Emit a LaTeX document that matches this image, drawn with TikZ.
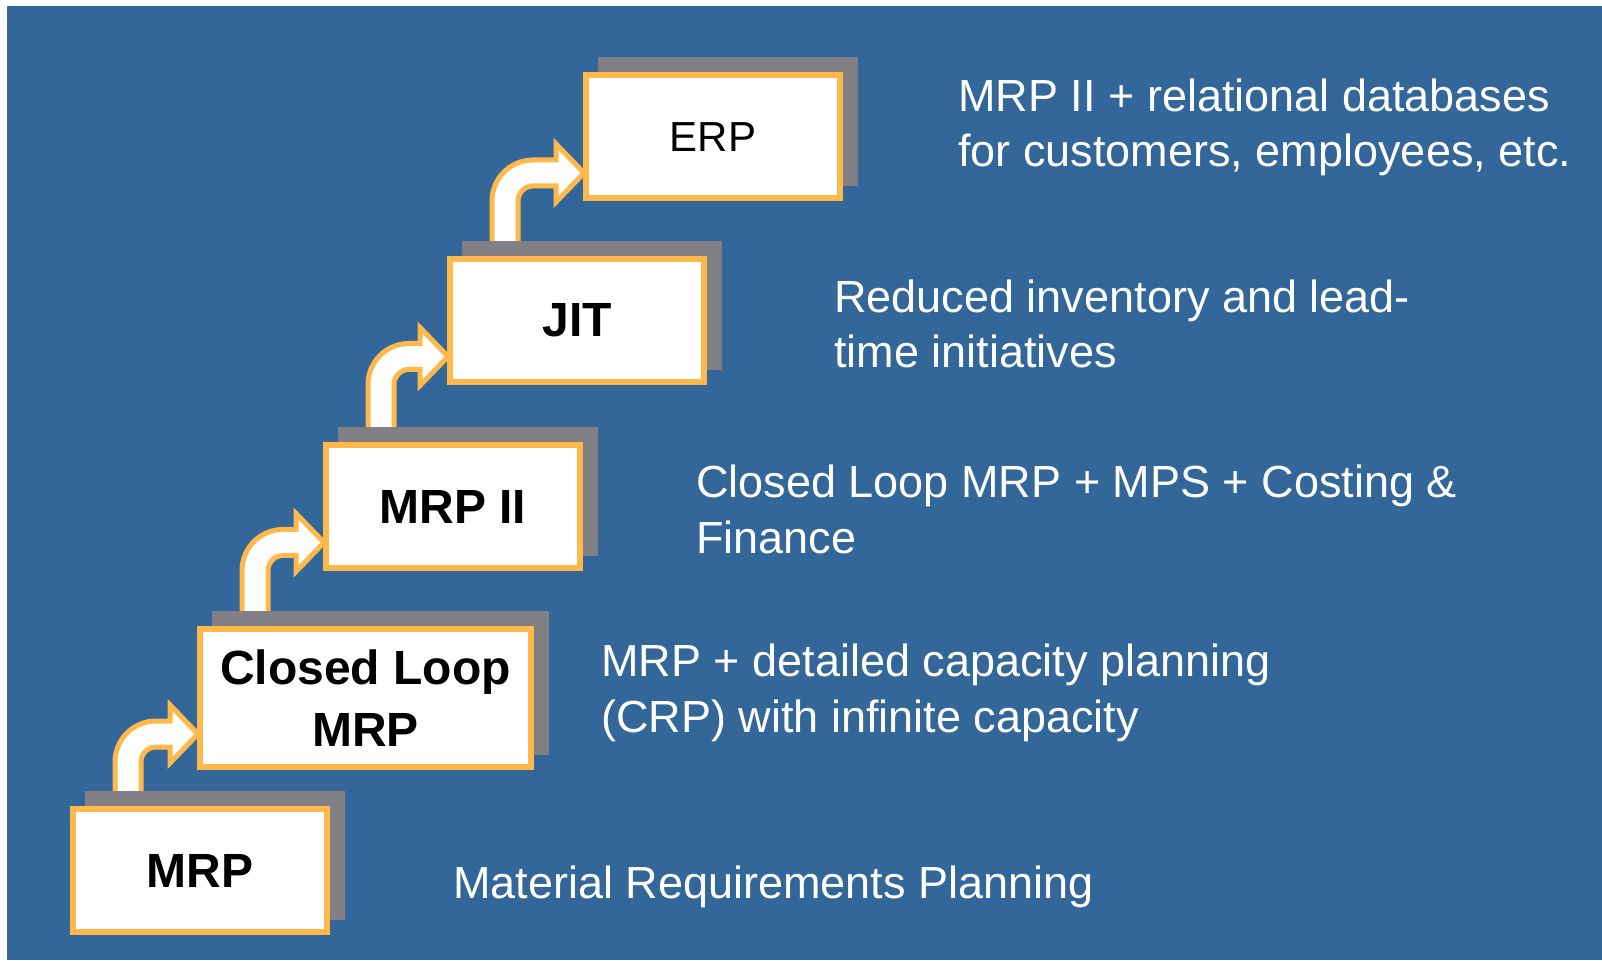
\documentclass[tikz,border=0pt]{standalone}
\usepackage{fontspec}
\setmainfont{Liberation Sans}
\usepackage{tikz}
\usetikzlibrary{calc}
\usetikzlibrary{shadows}
\usepackage{xcolor}

\definecolor{slideblue}{RGB}{51,102,153}
\definecolor{boxorange}{RGB}{255,185,75}
\definecolor{shadowgray}{RGB}{130,128,132}

\pgfdeclarelayer{backdrop}
\pgfdeclarelayer{background}
\pgfsetlayers{backdrop,background,main}

% bent arrow from the top of one box into the left side of the next
\newcommand\stairarrow[2]{%
  \begin{pgfonlayer}{background}
  \filldraw[risearrow] let \p1 = (#1.north west), \p2 = (#2.west),
      \p3 = (\x1+27.5pt,\y1+6pt), \p4 = (\x2-1pt,\y2-18pt) in
    (\x3-6.5pt,\y3) -- (\x3-6.5pt,\y4-14pt)
    arc[start angle=180, end angle=90, radius=20.5pt]
    -- (\x4-14pt,\y4+6.5pt) -- (\x4-14pt,\y4+14.5pt) -- (\x4,\y4)
    -- (\x4-14pt,\y4-14.5pt) -- (\x4-14pt,\y4-6.5pt)
    -- (\x3+14pt,\y4-6.5pt)
    arc[start angle=90, end angle=180, radius=7.5pt]
    -- (\x3+6.5pt,\y3);
  \end{pgfonlayer}}

\begin{document}
\begin{tikzpicture}[x=1pt, y=1pt,
    stepbox/.style={draw=boxorange, line width=3pt, fill=white,
      minimum width=127pt, minimum height=61.5pt,
      inner sep=0pt, outer sep=0pt, align=center,
      font=\bfseries\fontsize{24}{31}\selectfont,
      drop shadow={shadow xshift=7.5pt, shadow yshift=7.5pt, opacity=1,
        fill=shadowgray, draw=shadowgray, line width=3pt}},
    risearrow/.style={fill=white, draw=boxorange, line width=2.5pt},
    note/.style={text=white, font=\fontsize{22.5}{27.5}\selectfont,
      align=left, anchor=base west, inner sep=0pt},
  ]
  \useasboundingbox (0,0) rectangle (801,480);
  \begin{pgfonlayer}{backdrop}
    \fill[slideblue] (3.5,0) rectangle (801,477);
  \end{pgfonlayer}

  \node[stepbox] (mrp) at (100,44.75) {MRP};
  \node[stepbox, minimum width=165.5pt, minimum height=69pt]
    (closedloop) at (182.75,131) {Closed Loop\\MRP};
  \node[stepbox] (mrpii) at (226.5,226.75) {MRP II};
  \node[stepbox] (jit) at (288.5,319.75) {JIT};
  \node[stepbox, font=\fontsize{21}{25}\selectfont] (erp) at (356.5,411.5) {ERP};

  \foreach \lo/\up in {mrp/closedloop, closedloop/mrpii, mrpii/jit, jit/erp}
    {\stairarrow{\lo}{\up}}

  % base of a two-line note is the baseline of its second line
  \node[note] (erpnote) at (479,396.5)
    {MRP II + relational databases\\for customers, employees, etc.};
  \node[note] (jitnote) at (417,296)
    {Reduced inventory and lead-\\time initiatives};
  \node[note] (mrpiinote) at (348,203.5)
    {Closed Loop MRP + MPS + Costing \&\\Finance};
  \node[note] (closedloopnote) at (300.5,114)
    {MRP + detailed capacity planning\\(CRP) with infinite capacity};
  \node[note] (mrpnote) at (226.5,31) {Material Requirements Planning};

\end{tikzpicture}
\end{document}
